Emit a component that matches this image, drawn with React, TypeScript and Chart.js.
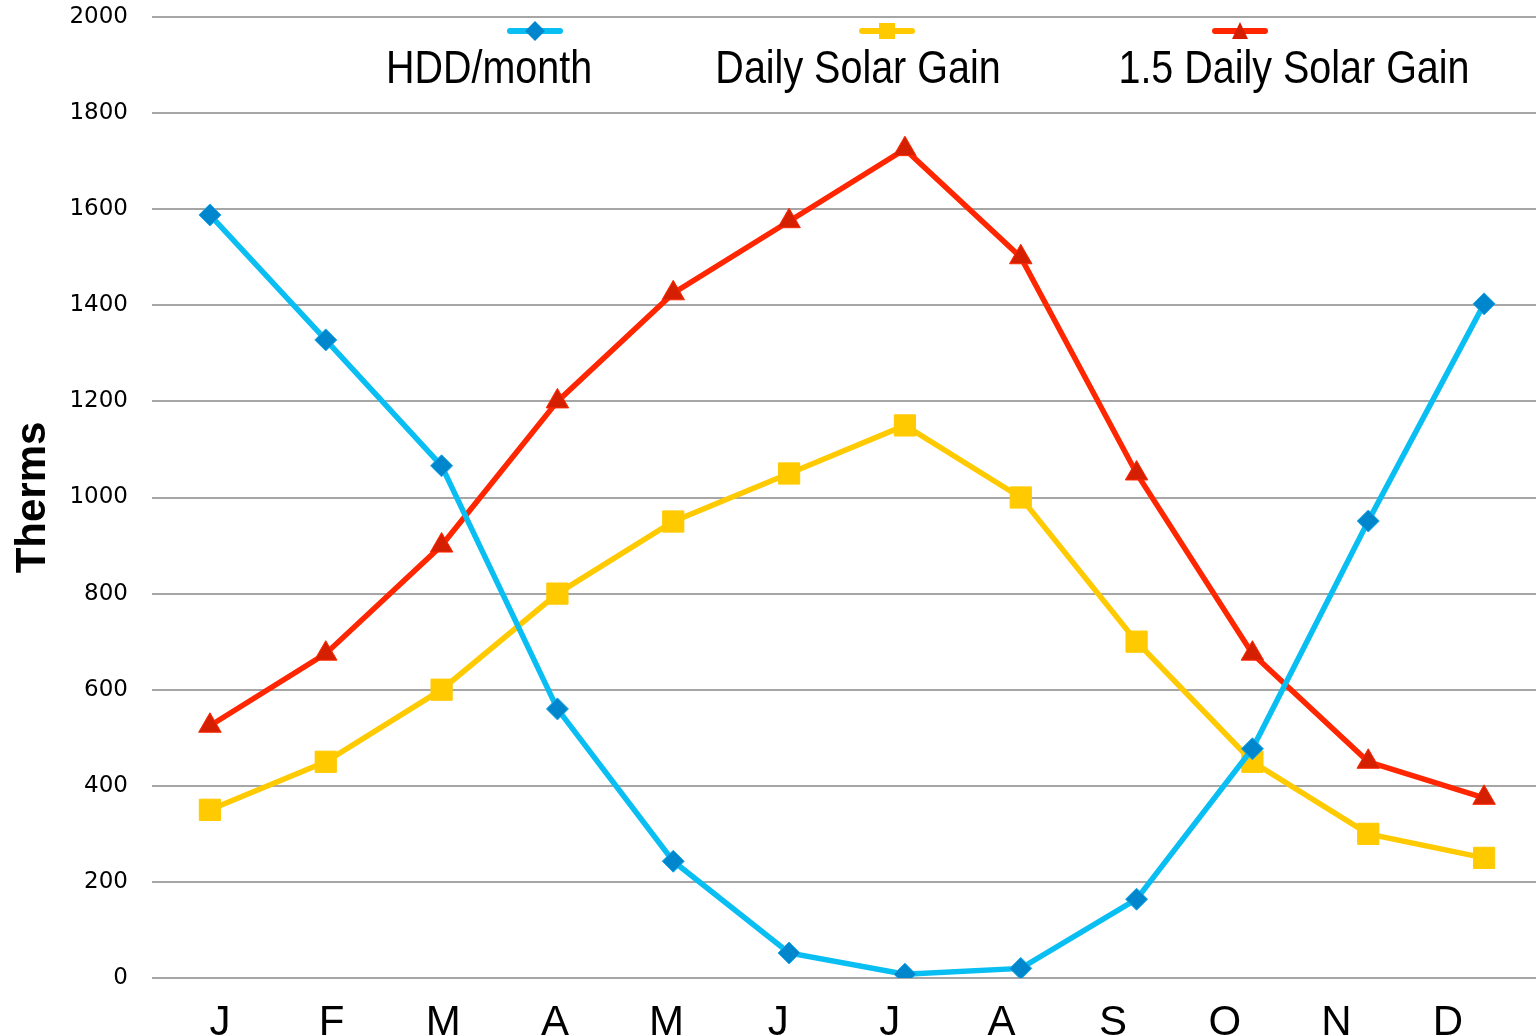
import React, { useEffect, useRef } from "react";
import { Chart, registerables } from "chart.js";

Chart.register(...registerables);

if (typeof document !== "undefined") {
  document.body.style.margin = "0";
  document.documentElement.style.overflow = "hidden";
}

const months = ["J", "F", "M", "A", "M", "J", "J", "A", "S", "O", "N", "D"];
const hddPerMonth = [1588, 1328, 1066, 560, 243, 52, 8, 20, 164, 477, 951, 1403];
const dailySolarGain = [350, 450, 600, 800, 950, 1050, 1150, 1000, 700, 450, 300, 250];
const solarGain15 = [525, 675, 900, 1200, 1425, 1575, 1725, 1500, 1050, 675, 450, 375];
const seriesNames = ["HDD/month", "Daily Solar Gain", "1.5 Daily Solar Gain"];

const BLUE = "#08BEF2";
const BLUE_MK = "#0086CC";
const YELLOW = "#FFCA00";
const RED = "#FF2600";
const RED_MK = "#D42000";

const sans = '"Liberation Sans", Arial, sans-serif';

export default function App() {
  const ref = useRef<HTMLCanvasElement | null>(null);
  useEffect(() => {
    const ctx = ref.current!.getContext("2d")!;
    const chart = new Chart(ctx, {
      type: "line",
      data: {
        labels: months,
        datasets: [
          {
            label: seriesNames[0],
            data: hddPerMonth,
            borderColor: BLUE,
            backgroundColor: BLUE_MK,
            pointBackgroundColor: BLUE_MK,
            pointBorderColor: "#1AA8E8",
            pointBorderWidth: 1,
            pointStyle: "rectRot",
            pointRadius: 11,
            borderWidth: 5.5,
            tension: 0,
          },
          {
            label: seriesNames[1],
            data: dailySolarGain,
            borderColor: YELLOW,
            backgroundColor: YELLOW,
            pointBackgroundColor: YELLOW,
            pointBorderColor: YELLOW,
            pointBorderWidth: 1,
            pointStyle: "rect",
            pointRadius: 15,
            borderWidth: 5.5,
            tension: 0,
          },
          {
            label: seriesNames[2],
            data: solarGain15,
            borderColor: RED,
            backgroundColor: RED_MK,
            pointBackgroundColor: RED_MK,
            pointBorderColor: RED,
            pointBorderWidth: 1,
            pointStyle: "triangle",
            pointRadius: 13,
            borderWidth: 5.5,
            tension: 0,
          },
        ],
      },
      options: {
        responsive: false,
        animation: false,
        layout: { autoPadding: false, padding: { top: 17, left: 0, right: 0, bottom: 0 } },
        plugins: { legend: { display: false }, tooltip: { enabled: false } },
        scales: {
          x: {
            offset: true,
            grid: { display: false },
            border: { display: false },
            ticks: { display: false },
            afterFit: (s: any) => {
              s.height = 0;
              s.paddingLeft = 0;
              s.paddingRight = 0;
            },
          },
          xLabels: {
            type: "linear",
            position: "bottom",
            min: -0.609,
            max: 11.842,
            grid: { display: false },
            border: { display: false },
            afterBuildTicks: (s: any) => {
              s.ticks = months.map((_, i) => ({ value: i }));
            },
            ticks: {
              color: "#000",
              font: { family: sans, size: 42 },
              padding: 12,
              maxRotation: 0,
              autoSkip: false,
              callback: (v: any) => months[v as number] ?? "",
            },
            afterFit: (s: any) => {
              s.height = 57;
              s.paddingLeft = 0;
              s.paddingRight = 0;
            },
          },
          y: {
            min: 0,
            max: 2000,
            border: { display: false },
            grid: { color: "#A6A6A6", lineWidth: 2, drawTicks: false },
            ticks: {
              stepSize: 200,
              color: "#000",
              padding: 24,
              font: { family: '"DejaVu Sans", sans-serif', size: 23 },
              callback: (v: any) => String(v),
            },
            title: {
              display: true,
              text: "Therms",
              color: "#000",
              padding: { top: 8, bottom: 0 },
              font: { family: sans, size: 42, weight: "bold" },
            },
            afterFit: (s: any) => {
              s.width = 152;
              s.paddingTop = 0;
              s.paddingBottom = 0;
            },
          },
        },
      },
    } as any);
    return () => chart.destroy();
  }, []);

  const lineSample = (cx: number, color: string) => (
    <div
      style={{
        position: "absolute",
        left: cx - 28,
        top: 28,
        width: 56,
        height: 6,
        borderRadius: 3,
        background: color,
      }}
    />
  );
  const label = (cx: number, text: string) => (
    <div
      style={{
        position: "absolute",
        left: cx - 250,
        width: 500,
        top: 43,
        textAlign: "center",
        fontFamily: sans,
        fontSize: 47,
        lineHeight: "47px",
        color: "#000",
        whiteSpace: "nowrap",
        transform: "scaleX(0.84)",
        transformOrigin: "center",
      }}
    >
      {text}
    </div>
  );

  return (
    <div style={{ position: "relative", width: 1536, height: 1035, overflow: "hidden", background: "#fff" }}>
      <canvas ref={ref} width={1542} height={1035} style={{ display: "block" }} />
      {lineSample(535, BLUE)}
      <div
        style={{
          position: "absolute",
          left: 535 - 7,
          top: 31 - 7,
          width: 14,
          height: 14,
          background: BLUE_MK,
          transform: "rotate(45deg)",
        }}
      />
      {label(489, seriesNames[0])}
      {lineSample(887, YELLOW)}
      <div
        style={{ position: "absolute", left: 887 - 8, top: 31 - 8, width: 16, height: 16, background: YELLOW }}
      />
      {label(858, seriesNames[1])}
      {lineSample(1240, RED)}
      <div
        style={{
          position: "absolute",
          left: 1240 - 8,
          top: 22,
          width: 0,
          height: 0,
          borderLeft: "8px solid transparent",
          borderRight: "8px solid transparent",
          borderBottom: `17px solid ${RED_MK}`,
        }}
      />
      {label(1294, seriesNames[2])}
    </div>
  );
}
